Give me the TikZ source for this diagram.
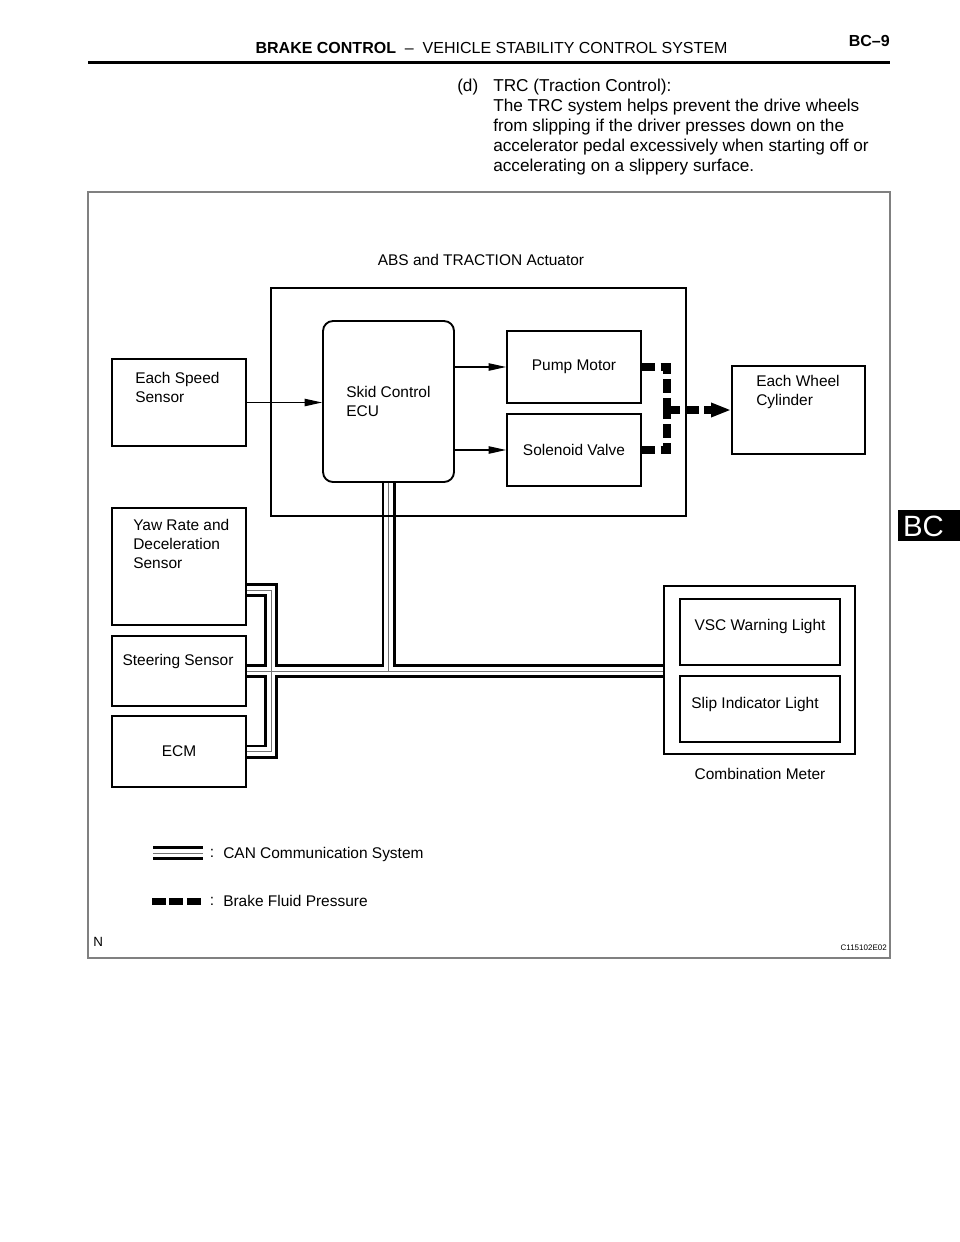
\documentclass[tikz,border=0pt]{standalone}
\usepackage{fontspec}
\setmainfont{Liberation Sans}
\usepackage{tikz}
\usetikzlibrary{arrows.meta,positioning}
\pgfdeclarelayer{bus}
\pgfsetlayers{bus,main}
\newcommand{\lblfont}{\fontsize{11.6}{14.25}\selectfont}
\newcommand{\parafont}{\fontsize{12.9}{15}\selectfont}
\newcommand{\headfont}{\fontsize{12}{14}\selectfont}
\newcommand{\tabfont}{\fontsize{22}{24}\selectfont}
\newcommand{\codefont}{\fontsize{6}{7}\selectfont}

\begin{document}
\begin{tikzpicture}[
    x=0.75pt, y=-0.75pt,
    block/.style={draw, line width=1.4pt, minimum width=100.5pt, inner sep=0pt, font=\lblfont},
    txt/.style={inner sep=0pt, align=left, font=\lblfont},
    sig/.style={line width=0.9pt, -{Triangle[length=13pt, width=5.5pt]}},
    fluid/.style={line width=5.5pt, dash pattern=on 10pt off 4pt}
]
\useasboundingbox (0,0) rectangle (960,1242);

% Page header
\node[inner sep=0pt, font=\headfont] (title) at (491.5,48) {\textbf{BRAKE CONTROL}\ \ –\ \ VEHICLE STABILITY CONTROL SYSTEM};
\node[inner sep=0pt, font=\headfont\bfseries, anchor=east] (pageno) at (890,41) {BC–9};
\draw[line width=2.25pt] (88,62) -- (890,62);

% Text above the figure
\node[txt, font=\parafont, anchor=west] (item) at (457,87) {(d)};
\node[txt, font=\parafont, anchor=west] (para) at (493,127) {TRC (Traction Control):\\The TRC system helps prevent the drive wheels\\from slipping if the driver presses down on the\\accelerator pedal excessively when starting off or\\accelerating on a slippery surface.};

% Section tab
\node[fill=black, minimum width=46.5pt, minimum height=23.25pt, inner sep=0pt] (tab) at (929,525.5) {};
\node[inner sep=0pt, text=white, font=\tabfont] (tabtxt) at (923.5,526) {BC};

% Figure frame
\draw[black!50, line width=1.2pt] (88,192) rectangle (890,958);

% Components
\node[block, minimum height=65.25pt] (speed) at (179,402.5) {};
\node[block, minimum width=98.25pt, minimum height=120.75pt, rounded corners=7.5pt] (ecu) at (388.5,401.5) {};
\node[block, minimum height=54pt] (pump) at (574,367) {Pump Motor};
\node[block, minimum height=54pt] (valve) at (574,450) {Solenoid Valve};
\node[block, minimum width=99.75pt, minimum height=66pt] (wheel) at (798.5,410) {};
\node[block, minimum height=87.75pt] (yaw) at (179,566.5) {};
\node[block, minimum height=52.5pt] (steer) at (179,671) {};
\node[block, minimum height=53.25pt] (ecm) at (179,751.5) {ECM};
\node[block, minimum width=143.25pt, minimum height=126pt] (meter) at (759.5,670) {};
\node[block, minimum width=120pt, minimum height=49.5pt] (vsc) at (760,632) {};
\node[block, minimum width=120pt, minimum height=49.5pt] (slip) at (760,709) {};
\node[block, minimum width=311.25pt, minimum height=171pt] (act) at (478.5,402) {};

% Labels
\node[txt] (acttxt) at (481,260) {ABS and TRACTION Actuator};
\node[txt, anchor=west] (speedtxt) at (135,387.5) {Each Speed\\Sensor};
\node[txt, anchor=west] (ecutxt) at (346,401.5) {Skid Control\\ECU};
\node[txt, anchor=west] (wheeltxt) at (756,391.5) {Each Wheel\\Cylinder};
\node[txt, anchor=west] (yawtxt) at (133,544) {Yaw Rate and\\Deceleration\\Sensor};
\node[txt] (steertxt) at (178,661) {Steering Sensor};
\node[txt] (vsctxt) at (760,626) {VSC Warning Light};
\node[txt] (sliptxt) at (755,704) {Slip Indicator Light};
\node[txt] (metertxt) at (760,774) {Combination Meter};

% Signal lines
\draw[sig] (speed.east) -- (ecu.west |- speed.east);
\draw[sig] (ecu.east |- pump.west) -- (pump.west);
\draw[sig] (ecu.east |- valve.west) -- (valve.west);

% Brake fluid pressure
\coordinate (jct) at (667,410);
\draw[fluid] (pump.east) -| (jct);
\draw[fluid] (valve.east) -| (jct);
\draw[fluid, -{Triangle[length=15pt, width=10pt]}] (jct) -- (wheel.west);

% CAN bus (outer, gap, core)
\coordinate (busl) at (271,590);
\begin{pgfonlayer}{bus}
\foreach \w/\c in {10.5pt/black, 6.5pt/white, 0.7pt/black!55} {
  \draw[line width=\w, draw=\c] (yaw.east |- busl) -- (busl) -- (busl |- ecm.east) -- (ecm.east);
  \draw[line width=\w, draw=\c] (steer.east) -- (steer.east -| meter.west);
  \draw[line width=\w, draw=\c] (ecu.south) -- (ecu.south |- steer.east);
  \draw[line width=\w, draw=\c] (153,853) -- (203,853);
}
\end{pgfonlayer}

% Legend
\draw[fluid, dash pattern=on 10.5pt off 2.6pt] (152,901.5) -- (202,901.5);
\node[txt] (cancolon) at (212,853) {:};
\node[txt, anchor=west] (cantxt) at (223,854) {CAN Communication System};
\node[txt] (fluidcolon) at (212,901) {:};
\node[txt, anchor=west] (fluidtxt) at (223,901) {Brake Fluid Pressure};

% Figure marks
\node[inner sep=0pt, font=\fontsize{10}{12}\selectfont, anchor=west] (nmark) at (93,942) {N};
\node[inner sep=0pt, font=\codefont, anchor=east] (figid) at (887,948) {C115102E02};

\end{tikzpicture}
\end{document}
